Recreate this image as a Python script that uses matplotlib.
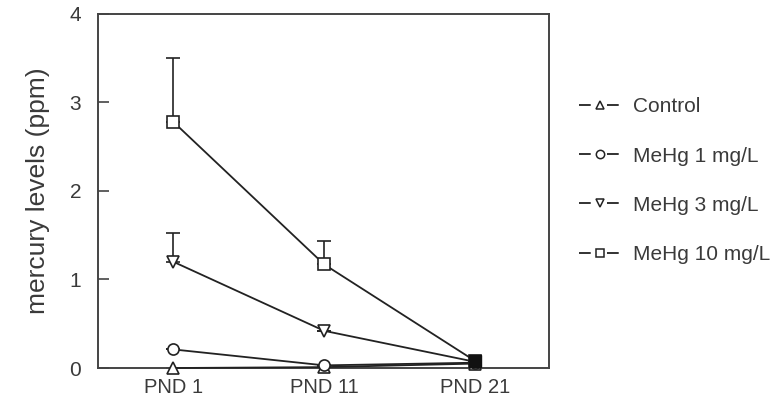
import matplotlib.pyplot as plt
from matplotlib.lines import Line2D
import numpy as np

days = ['PND 1', 'PND 11', 'PND 21']
groups = ['Control', 'MeHg 1 mg/L', 'MeHg 3 mg/L', 'MeHg 10 mg/L']
markers = ['^', 'o', 'v', 's']

control = [0.0, 0.01, 0.05]
mehg1 = [0.21, 0.03, 0.06]
mehg3 = [1.20, 0.42, 0.07]
mehg10 = [2.78, 1.17, 0.08]

err_control = [0.0, 0.0, 0.0]
err_mehg1 = [0.0, 0.0, 0.0]
err_mehg3 = [0.33, 0.0, 0.0]
err_mehg10 = [0.72, 0.26, 0.0]

plt.rcParams['font.family'] = ['Liberation Sans', 'DejaVu Sans']

fig = plt.figure(figsize=(7.71, 4.08), dpi=100)
ax = fig.add_axes([0.127, 0.098, 0.585, 0.868])

x = np.arange(len(days))
series = [control, mehg1, mehg3, mehg10]
errs = [err_control, err_mehg1, err_mehg3, err_mehg10]
ink = '#222222'
txt = '#3a3a3a'

for vals, err, m, name in zip(series, errs, markers, groups):
    err = np.array(err)
    ax.errorbar(x, vals, yerr=[np.zeros_like(err), err], fmt='none',
                ecolor=ink, elinewidth=1.2, capsize=5, capthick=1.2, zorder=2)
    ax.plot(x, vals, color=ink, lw=1.3, marker=m, markersize=8,
            markerfacecolor='white', markeredgecolor=ink, markeredgewidth=1.2,
            zorder=3, clip_on=False)

# overlapping markers at PND 21 render as a dark block
ax.plot(x[-1], mehg10[-1], marker='s', markersize=8, color='#111111', zorder=4,
        clip_on=False)

ax.set_xlim(-0.5, 2.49)
ax.set_ylim(0, 4)
ax.set_yticks([0, 1, 2, 3, 4])
ax.set_xticks(x)
ax.set_xticklabels(days)
ax.tick_params(axis='y', direction='in', length=8, width=1.2, colors='#444444',
               labelsize=15, pad=12)
ax.tick_params(axis='x', length=0, labelsize=14.5, colors='#444444', pad=7)
for lbl in ax.get_xticklabels() + ax.get_yticklabels():
    lbl.set_color(txt)
for s in ax.spines.values():
    s.set_color('#444444')
    s.set_linewidth(1.4)
ax.set_ylabel('mercury levels (ppm)', fontsize=19, color=txt, labelpad=14)

# legend handles: short dash, marker, short dash
handles = [Line2D([], [], color=ink, lw=1.3, linestyle=(0, (6.5, 9.0, 6.5)),
                  marker=m, markersize=6, markerfacecolor='white',
                  markeredgecolor=ink, markeredgewidth=1.1)
           for m in markers]
fig.legend(handles, groups, loc='upper left', bbox_to_anchor=(0.738, 0.787),
           frameon=False, fontsize=15, labelspacing=1.45, handlelength=2.0,
           handletextpad=0.55, borderpad=0, labelcolor=txt)

fig.savefig('out.png', dpi=100)
